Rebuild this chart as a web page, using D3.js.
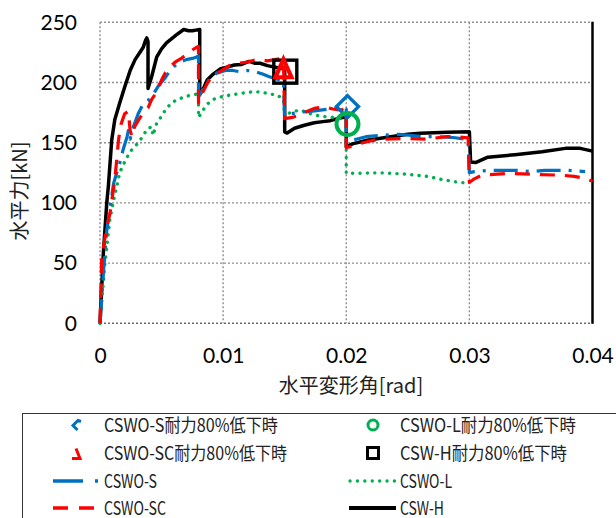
<!DOCTYPE html>
<html>
<head>
<meta charset="utf-8">
<script src="https://cdn.jsdelivr.net/npm/d3@7"></script>
<style>
  body { margin: 0; background: #fff; }
  svg { display: block; }
</style>
</head>
<body>
<svg id="chart" width="616" height="518"></svg>
<script>
// Horizontal load vs. drift angle for four specimens: [drift rad, force kN]
const seriesNames = ["CSWO-S", "CSWO-SC", "CSWO-L", "CSW-H"];

const cswoS = [
  [0,0],[0.0003,45],[0.00055,77],[0.0008,95],[0.0011,116],[0.00136,125],[0.0016,133],[0.0019,145],
  [0.0022,155],[0.0023,160],[0.00245,153],[0.0027,163],[0.0031,174],[0.0035,182],[0.0039,185],
  [0.0043,190],[0.0048,198],[0.0053,204],[0.0057,210],[0.0061,214],[0.0065,217],[0.007,219],
  [0.0075,220],[0.0078,221],[0.008,222],[0.008,188],[0.0084,195],[0.0089,203],[0.0095,208],
  [0.0102,210],[0.0108,210],[0.0113,209],[0.012,210],[0.0126,209],[0.0132,207],[0.0137,205],
  [0.0143,203],[0.0147,202],[0.0149,202],[0.015,170],[0.0155,174],[0.0163,175.5],[0.0171,176],
  [0.0179,177],[0.0186,178],[0.0193,178.5],[0.02,178],[0.02,150],[0.0205,152],[0.0216,155],
  [0.0228,156],[0.0243,157],[0.0253,156],[0.0263,155],[0.0275,155],[0.0285,154.5],[0.0297,153],
  [0.0299,152],[0.03,125],[0.0304,126],[0.0315,127],[0.0325,127],[0.0339,127],[0.035,126],
  [0.0361,127],[0.037,127],[0.038,127],[0.0394,126]
];

const cswoSC = [
  [0,0],[0.00014,55],[0.00055,80],[0.0008,91],[0.0012,119],[0.00136,136],[0.0015,152],[0.0017,165],
  [0.002,174],[0.0023,176],[0.00245,160],[0.0026,155],[0.0028,163],[0.0032,170],[0.0036,176],
  [0.0039,179],[0.0042,186],[0.0046,192],[0.005,202],[0.0053,208],[0.0057,213],[0.0061,217],
  [0.0066,220],[0.007,223],[0.0075,227],[0.0079,229.5],[0.008,230],[0.008,183],[0.0084,193],
  [0.0088,201],[0.0094,207],[0.0099,210],[0.0105,214],[0.0112,216],[0.012,217],[0.0125,218.5],
  [0.013,219],[0.0136,218],[0.0142,219],[0.0147,220],[0.0149,219],[0.015,170],[0.0156,171],
  [0.0163,173],[0.0168,176],[0.0174,178.5],[0.0182,180],[0.0189,178],[0.0196,177],[0.02,180],
  [0.02,146],[0.0205,147],[0.0212,149.5],[0.0222,152],[0.0231,153],[0.025,153.5],[0.0265,153],
  [0.0282,155],[0.029,155],[0.0299,154],[0.03,117],[0.0304,120],[0.031,123],[0.0331,124.5],
  [0.0353,123.7],[0.0375,123],[0.0385,122],[0.0394,120.5],[0.04,118]
];

const cswoL = [
  [0,0],[0.0004,50],[0.0008,86],[0.0011,102],[0.00136,113.5],[0.0016,125],[0.0019,132],[0.0022,138],
  [0.0025,143],[0.00285,147],[0.0032,151],[0.0035,156],[0.0039,162],[0.0042,163],[0.0043,156],
  [0.0046,166],[0.005,172],[0.0054,178.6],[0.0058,182.7],[0.0062,185.5],[0.0066,187],[0.0072,189],
  [0.0077,190],[0.008,191],[0.008,171],[0.0083,176],[0.0087,182],[0.0092,186],[0.0098,188],
  [0.0105,189.5],[0.0112,190.5],[0.0118,191.5],[0.0125,192.4],[0.0131,192],[0.0138,190.5],
  [0.0144,189.5],[0.0149,186],[0.015,171],[0.0155,175.7],[0.0163,177],[0.0171,174],[0.0179,172],
  [0.0184,171.6],[0.019,171],[0.0195,170],[0.02,169],[0.02,124.6],[0.0209,124.6],[0.0228,125],
  [0.0247,124],[0.0266,122],[0.0277,119.6],[0.0288,117.6],[0.0299,116.3]
];

const cswH = [
  [0,0],[0.00027,58],[0.00055,100],[0.00068,114],[0.00095,152],[0.0012,169],[0.0016,183],[0.002,196],
  [0.00245,210],[0.00285,219],[0.0033,226],[0.0035,229],[0.0037,235],[0.0038,237],[0.0039,234],
  [0.0039,195],[0.0042,205],[0.0046,221],[0.005,228],[0.0054,233],[0.0062,239.5],[0.0068,244],
  [0.0072,243],[0.0075,243],[0.0078,243.5],[0.0081,244],[0.0081,190],[0.0084,195],[0.0087,202],
  [0.0092,207],[0.0098,211.5],[0.0104,213],[0.0109,214.5],[0.0115,215],[0.0121,217.5],[0.0126,216],
  [0.013,216],[0.0136,214],[0.0141,213],[0.0149,211.5],[0.015,209],[0.015,159],[0.0152,158],
  [0.0158,162],[0.0166,164.5],[0.0174,166.6],[0.0181,167.5],[0.0187,168.3],[0.0195,170.5],
  [0.02,171.5],[0.02,146.5],[0.0205,149],[0.0217,152],[0.0236,155],[0.025,157],[0.026,157.8],
  [0.0282,158.6],[0.03,159],[0.0301,134],[0.0305,133.5],[0.0315,138],[0.0337,140],[0.0359,142.5],
  [0.0378,145.3],[0.039,145.3],[0.04,143]
];

// Points where each specimen's strength fell to 80% of peak
const dropNames = ["CSWO-S耐力80%低下時", "CSWO-SC耐力80%低下時", "CSWO-L耐力80%低下時", "CSW-H耐力80%低下時"];
const dropDrift = [0.0201, 0.0149, 0.0201, 0.01505];
const dropForce = [180, 211, 165.5, 209];

const xTicks = [0, 0.01, 0.02, 0.03, 0.04];
const yTicks = [0, 50, 100, 150, 200, 250];

const svg = d3.select("#chart");
const plot = { left: 100, right: 592.5, top: 22.3, bottom: 323.3 };

const x = d3.scaleLinear().domain([0, 0.04]).range([plot.left, plot.right]);
const y = d3.scaleLinear().domain([0, 250]).range([plot.bottom, plot.top]);

const gridColor = "#8f8f8f";

// dotted gridlines
const grid = svg.append("g");
grid.selectAll("line.h").data(yTicks).join("line")
  .attr("x1", plot.left).attr("x2", plot.right)
  .attr("y1", d => y(d)).attr("y2", d => y(d))
  .attr("stroke", d => d === 0 ? "#6a6a6a" : gridColor)
  .attr("stroke-width", 1.4).attr("stroke-dasharray", "2,2");
grid.selectAll("line.v").data(xTicks.slice(0, 4)).join("line")
  .attr("y1", plot.top).attr("y2", plot.bottom)
  .attr("x1", d => x(d)).attr("x2", d => x(d))
  .attr("stroke", gridColor).attr("stroke-width", 1.4).attr("stroke-dasharray", "2,2");

// right frame edge
svg.append("line")
  .attr("x1", x(0.04)).attr("x2", x(0.04))
  .attr("y1", plot.top - 0.5).attr("y2", plot.bottom + 0.5)
  .attr("stroke", "#000").attr("stroke-width", 2.5);

// axes
const yAxis = svg.append("g")
  .attr("transform", `translate(${plot.left},0)`)
  .call(d3.axisLeft(y).tickValues(yTicks).tickSize(0).tickPadding(23).tickFormat(d3.format("d")));
const xAxis = svg.append("g")
  .attr("transform", `translate(0,${plot.bottom})`)
  .call(d3.axisBottom(x).tickValues(xTicks).tickSize(0).tickPadding(25)
    .tickFormat(d => d === 0 ? "0" : d3.format(".2f")(d)));
[yAxis, xAxis].forEach(g => {
  g.select(".domain").remove();
  g.selectAll("text").attr("font-family", "Lato, 'Open Sans', sans-serif")
    .attr("font-size", 21).attr("fill", "#000");
});

// axis titles
svg.append("text")
  .attr("transform", "translate(27,191) rotate(-90)")
  .attr("text-anchor", "middle")
  .attr("font-family", "'Noto Sans CJK JP', sans-serif").attr("font-size", 20)
  .attr("fill", "#222")
  .text("水平力[kN]");
svg.append("text")
  .attr("x", 351).attr("y", 393)
  .attr("text-anchor", "middle")
  .attr("font-family", "'Noto Sans CJK JP', sans-serif").attr("font-size", 20)
  .attr("fill", "#222")
  .text("水平変形角[rad]");

// curves
const line = d3.line().x(d => x(d[0])).y(d => y(d[1]));
const styles = {
  "CSW-H":   { color: "#000000", width: 3.5, dash: null, cap: "butt" },
  "CSWO-L":  { color: "#00B050", width: 3.4, dash: "0.1,7.3", cap: "round" },
  "CSWO-S":  { color: "#0070C0", width: 3.2, dash: "24,8,3,8", cap: "butt" },
  "CSWO-SC": { color: "#FF0000", width: 3.2, dash: "15,10", cap: "butt" }
};
const curveData = { "CSWO-S": cswoS, "CSWO-SC": cswoSC, "CSWO-L": cswoL, "CSW-H": cswH };
const drawOrder = ["CSW-H", "CSWO-L", "CSWO-S", "CSWO-SC"];

svg.append("g").selectAll("path").data(drawOrder).join("path")
  .attr("d", k => line(curveData[k]))
  .attr("fill", "none")
  .attr("stroke", k => styles[k].color)
  .attr("stroke-width", k => styles[k].width)
  .attr("stroke-dasharray", k => styles[k].dash)
  .attr("stroke-linecap", k => styles[k].cap)
  .attr("stroke-linejoin", "round");

// 80% strength markers
const mk = svg.append("g").attr("fill", "none");
// CSWO-S: diamond
mk.append("path")
  .attr("transform", `translate(${x(dropDrift[0])},${y(dropForce[0])})`)
  .attr("d", "M0,-11 L11,0 L0,11 L-11,0 Z")
  .attr("stroke", "#0070C0").attr("stroke-width", 3.4);
// CSW-H: square
mk.append("rect")
  .attr("x", x(dropDrift[3]) - 11.5).attr("y", y(dropForce[3]) - 11.5)
  .attr("width", 23).attr("height", 23)
  .attr("stroke", "#000").attr("stroke-width", 3.4);
// CSWO-SC: triangle
mk.append("path")
  .attr("transform", `translate(${x(dropDrift[1])},${y(dropForce[1])})`)
  .attr("d", "M0,-10 L8,8 L-8,8 Z")
  .attr("stroke", "#FF0000").attr("stroke-width", 4.2).attr("stroke-linejoin", "miter");
// CSWO-L: circle
mk.append("circle")
  .attr("cx", x(dropDrift[2])).attr("cy", y(dropForce[2])).attr("r", 11)
  .attr("stroke", "#00B050").attr("stroke-width", 4);

// legend
const lg = svg.append("g");
lg.append("rect").attr("x", 22.5).attr("y", 413.5).attr("width", 700).attr("height", 200)
  .attr("fill", "#fff").attr("stroke", "#333").attr("stroke-width", 1);

const rowY = [425, 453, 481, 508];
const legendFont = "'Noto Sans CJK JP', sans-serif";
const legendItems = [
  { label: dropNames[0], tx: 104, ty: rowY[0], len: 174 },
  { label: dropNames[1], tx: 104, ty: rowY[1], len: 183 },
  { label: seriesNames[0], tx: 104, ty: rowY[2], len: 53 },
  { label: seriesNames[1], tx: 104, ty: rowY[3], len: 62 },
  { label: dropNames[2], tx: 400, ty: rowY[0], len: 176 },
  { label: dropNames[3], tx: 400, ty: rowY[1], len: 167 },
  { label: seriesNames[2], tx: 400, ty: rowY[2], len: 52 },
  { label: seriesNames[3], tx: 400, ty: rowY[3], len: 44 }
];
lg.selectAll("text").data(legendItems).join("text")
  .attr("x", d => d.tx).attr("y", d => d.ty + 6.5)
  .attr("font-family", legendFont).attr("font-size", 18).attr("fill", "#222")
  .attr("textLength", d => d.len).attr("lengthAdjust", "spacingAndGlyphs")
  .text(d => d.label);

// legend symbols (partially clipped marker glyphs in the left column)
lg.append("path").attr("d", "M81,421.5 L78,420.5 L73,425.5 L77.5,430")
  .attr("fill", "none").attr("stroke", "#0070C0").attr("stroke-width", 3);
lg.append("path").attr("d", "M76,448.5 L80,458.5 L72,458.5")
  .attr("fill", "none").attr("stroke", "#FF0000").attr("stroke-width", 3);
lg.append("circle").attr("cx", 373).attr("cy", rowY[0]).attr("r", 5)
  .attr("fill", "none").attr("stroke", "#00B050").attr("stroke-width", 3);
lg.append("rect").attr("x", 367.5).attr("y", rowY[1] - 5.5).attr("width", 11).attr("height", 11)
  .attr("fill", "none").attr("stroke", "#000").attr("stroke-width", 3);

const sample = [
  { k: "CSWO-S", x1: 53, x2: 99, yy: rowY[2] },
  { k: "CSWO-SC", x1: 53, x2: 97, yy: rowY[3] },
  { k: "CSWO-L", x1: 350, x2: 395, yy: rowY[2] },
  { k: "CSW-H", x1: 349, x2: 396, yy: rowY[3] }
];
const sampleDash = { "CSWO-S": "30,12,3,20", "CSWO-SC": "15,11", "CSWO-L": "0.1,7.3", "CSW-H": null };
lg.selectAll("line").data(sample).join("line")
  .attr("x1", d => d.x1).attr("x2", d => d.x2).attr("y1", d => d.yy).attr("y2", d => d.yy)
  .attr("stroke", d => styles[d.k].color)
  .attr("stroke-width", d => d.k === "CSW-H" ? 4 : 3.3)
  .attr("stroke-dasharray", d => sampleDash[d.k])
  .attr("stroke-linecap", d => styles[d.k].cap);
</script>
</body>
</html>
